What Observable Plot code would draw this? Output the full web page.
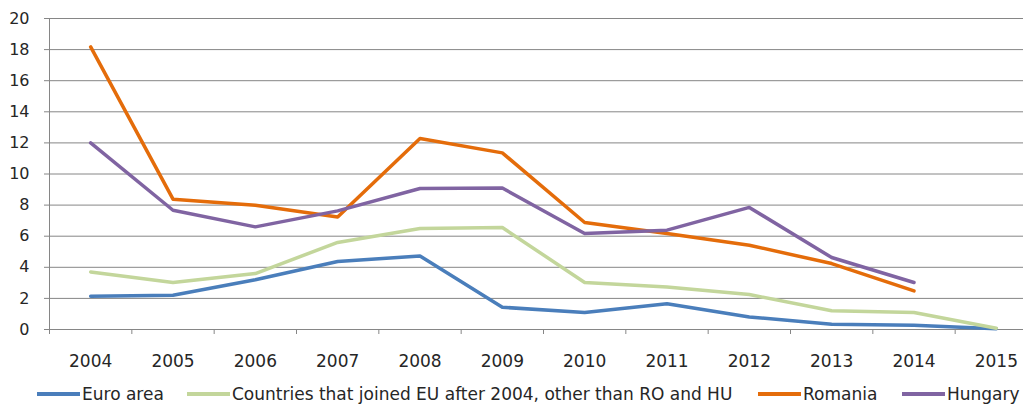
<!DOCTYPE html>
<html><head><meta charset="utf-8">
<script src="https://cdn.jsdelivr.net/npm/d3@7"></script>
<script src="https://cdn.jsdelivr.net/npm/@observablehq/plot@0.6"></script>
<style>
body{margin:0;background:#fff;font-family:"DejaVu Sans",sans-serif;}
#chart{position:relative;width:1023px;height:405px;overflow:hidden;background:#fff}
#chart svg{position:absolute;left:0;top:0}
.legend{position:absolute;top:383px;left:0;width:1023px;height:22px}
.item{position:absolute;top:0;height:22px;display:flex;align-items:center;font-size:17px;color:#262626;white-space:nowrap}
.swatch{width:43px;height:3.5px;margin-right:2px}
</style></head><body><div id="chart"></div>
<script>
const years = [2004, 2005, 2006, 2007, 2008, 2009, 2010, 2011, 2012, 2013, 2014, 2015];
const euroArea = [2.14, 2.2, 3.2, 4.37, 4.73, 1.43, 1.09, 1.65, 0.81, 0.34, 0.28, 0.05];
const joinedAfter2004 = [3.7, 3.02, 3.6, 5.6, 6.5, 6.56, 3.02, 2.74, 2.25, 1.2, 1.09, 0.08];
const romania = [18.17, 8.38, 7.99, 7.24, 12.28, 11.36, 6.88, 6.17, 5.42, 4.24, 2.48, null];
const hungary = [12.0, 7.67, 6.6, 7.63, 9.07, 9.1, 6.17, 6.39, 7.85, 4.63, 3.02, null];
const seriesNames = ["Euro area", "Countries that joined EU after 2004, other than RO and HU", "Romania", "Hungary"];
const seriesColors = ["#4A7EBB", "#C3D69B", "#E46C0A", "#8064A2"];
const yTicks = [0, 2, 4, 6, 8, 10, 12, 14, 16, 18, 20];

const rows = [];
[euroArea, joinedAfter2004, romania, hungary].forEach((vals, i) =>
  vals.forEach((v, j) => { if (v != null) rows.push({year: years[j], value: v, series: seriesNames[i]}); }));

const boundaries = d3.range(years.length + 1).map(i => years[0] - 0.5 + i);

const plot = Plot.plot({
  width: 1023, height: 375,
  marginLeft: 49, marginRight: -14, marginTop: 18, marginBottom: 46,
  style: {fontFamily: "DejaVu Sans", fontSize: "16px", color: "#262626", background: "white", overflow: "visible"},
  x: {type: "linear", domain: [years[0] - 0.5, years[years.length - 1] + 0.5]},
  y: {domain: [0, 20]},
  color: {domain: seriesNames, range: seriesColors},
  marks: [
    Plot.gridY(yTicks, {stroke: "#868686", strokeOpacity: 1, strokeWidth: 1}),
    Plot.axisY(yTicks, {tickSize: 5, tickPadding: 15, stroke: "#868686", fill: "#262626", tickFormat: d => String(d), label: null, fontSize: 16}),
    Plot.ruleX([years[0] - 0.5], {stroke: "#868686", strokeWidth: 1}),
    Plot.axisX(boundaries, {tickSize: 5, stroke: "#868686", tickFormat: () => "", label: null}),
    Plot.axisX(years, {tickSize: 0, tickPadding: 25, fill: "#262626", tickFormat: d => String(d), label: null, fontSize: 17}),
    Plot.line(rows, {x: "year", y: "value", z: "series", stroke: "series", strokeWidth: 3.5, strokeLinejoin: "round"})
  ]
});
const chart = document.getElementById("chart");
chart.appendChild(plot);

const legendLefts = [37, 187, 758, 902];
const legend = document.createElement("div");
legend.className = "legend";
seriesNames.forEach((name, i) => {
  const item = document.createElement("div");
  item.className = "item";
  item.style.left = legendLefts[i] + "px";
  const sw = document.createElement("span");
  sw.className = "swatch";
  sw.style.background = seriesColors[i];
  const tx = document.createElement("span");
  tx.textContent = name;
  item.appendChild(sw); item.appendChild(tx);
  legend.appendChild(item);
});
chart.appendChild(legend);
</script>
</body></html>
